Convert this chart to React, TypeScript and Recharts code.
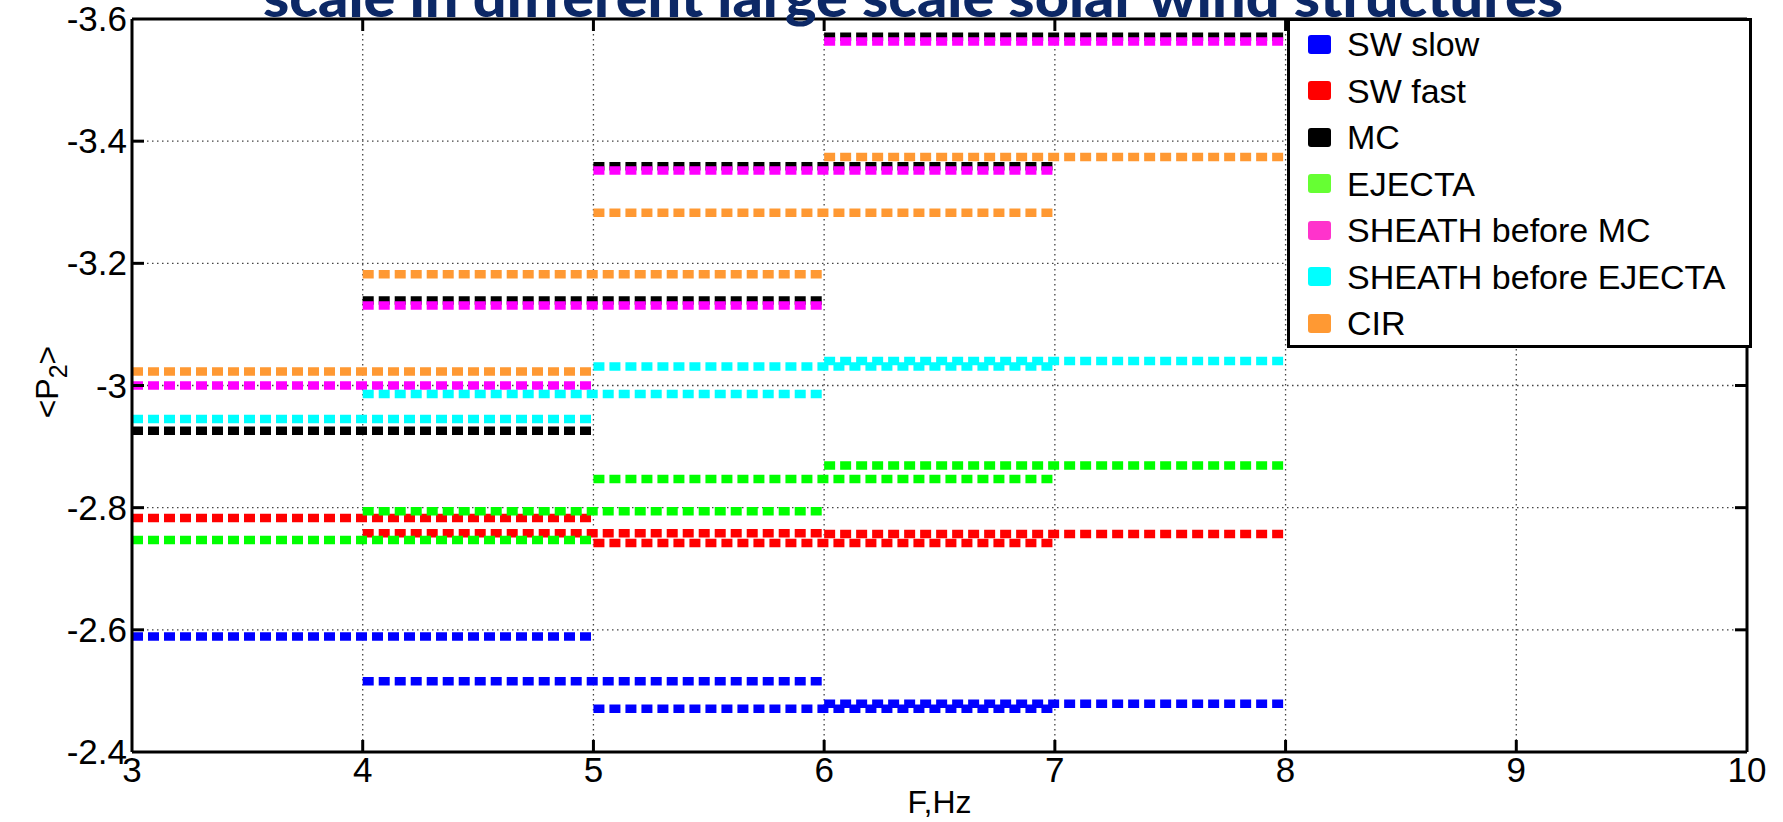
import React from 'react';
import { LineChart, Line, XAxis, YAxis, CartesianGrid, ReferenceLine, Legend } from 'recharts';

// ---- data ----
const segStart = [3, 4, 5, 6];
const segEnd = [5, 6, 7, 8];

const swSlow = [-2.589, -2.516, -2.471, -2.479];
const swFast = [-2.783, -2.758, -2.742, -2.757];
const mc = [-2.926, -3.139, -3.359, -3.571];
const ejecta = [-2.747, -2.794, -2.847, -2.869];
const sheathMc = [-3.0, -3.131, -3.352, -3.563];
const sheathEjecta = [-2.945, -2.986, -3.031, -3.04];
const cir = [-3.023, -3.182, -3.283, -3.374];

const seriesNames = ['SW slow', 'SW fast', 'MC', 'EJECTA', 'SHEATH before MC', 'SHEATH before EJECTA', 'CIR'];
const seriesValues = [swSlow, swFast, mc, ejecta, sheathMc, sheathEjecta, cir];
const lineColors = ['#0000FF', '#FF0000', '#000000', '#00FF00', '#FF00FF', '#00FFFF', '#FF9933'];
const legendColors = ['#0000FF', '#FF0000', '#000000', '#66FF33', '#FF33CC', '#00FFFF', '#FF9933'];

const xTicks = [3, 4, 5, 6, 7, 8, 9, 10];
const yTicks = [-3.6, -3.4, -3.2, -3, -2.8, -2.6, -2.4];
const yTickLabels = ['-3.6', '-3.4', '-3.2', '-3', '-2.8', '-2.6', '-2.4'];

const titleText = 'scale in different large scale solar wind structures';
const xLabel = 'F,Hz';

// ---- layout ----
const W = 1783;
const H = 822;
const PLOT_LEFT = 132;
const PLOT_TOP = 19;
const PLOT_RIGHT = 1747;
const PLOT_BOTTOM = 752;
const PLOT_W = PLOT_RIGHT - PLOT_LEFT;
const PLOT_H = PLOT_BOTTOM - PLOT_TOP;
const TICK_LEN = 12;
const FONT = "'Liberation Sans', Arial, Helvetica, sans-serif";
const TICK_FONT = 35;

const XTick = (props: any) => {
  const { x, y, payload } = props;
  const v = payload.value;
  const edge = v === xTicks[0] || v === xTicks[xTicks.length - 1];
  return (
    <g>
      {!edge && <line x1={x} y1={y} x2={x} y2={y - TICK_LEN} stroke="#000" strokeWidth={3} />}
      {!edge && <line x1={x} y1={y - PLOT_H} x2={x} y2={y - PLOT_H + TICK_LEN} stroke="#000" strokeWidth={3} />}
      <text x={x} y={y + 30} textAnchor="middle" fontSize={TICK_FONT} fontFamily={FONT} fill="#000">
        {String(v)}
      </text>
    </g>
  );
};

const YTick = (props: any) => {
  const { x, y, payload } = props;
  const v = payload.value;
  const idx = yTicks.indexOf(v);
  const edge = idx === 0 || idx === yTicks.length - 1;
  return (
    <g>
      {!edge && <line x1={x} y1={y} x2={x + TICK_LEN} y2={y} stroke="#000" strokeWidth={3} />}
      {!edge && <line x1={x + PLOT_W - TICK_LEN} y1={y} x2={x + PLOT_W} y2={y} stroke="#000" strokeWidth={3} />}
      <text x={x - 5} y={y + 12} textAnchor="end" fontSize={TICK_FONT} fontFamily={FONT} fill="#000">
        {idx >= 0 ? yTickLabels[idx] : String(v)}
      </text>
    </g>
  );
};

const XLabel = (props: any) => {
  const vb = props.viewBox || { x: PLOT_LEFT, y: PLOT_BOTTOM, width: PLOT_W, height: 70 };
  return (
    <text x={vb.x + vb.width / 2} y={vb.y + 61} textAnchor="middle" fontSize={32} fontFamily={FONT} fill="#000">
      {xLabel}
    </text>
  );
};

const YLabel = () => {
  const cx = 48;
  const cy = 382;
  return (
    <text x={cx} y={cy} transform={`rotate(-90 ${cx} ${cy})`} textAnchor="middle" fontSize={32} fontFamily={FONT} fill="#000" dy={10}>
      {'<P'}
      <tspan fontSize={25} dy={9}>2</tspan>
      <tspan dy={-9}>{'>'}</tspan>
    </text>
  );
};

const LegendBox = () => (
  <div
    style={{
      boxSizing: 'border-box',
      width: 465,
      height: 330,
      border: '3px solid #000',
      background: '#fff',
      fontFamily: FONT,
    }}
  >
    {seriesNames.map((name, i) => (
      <div key={name} style={{ display: 'flex', alignItems: 'center', height: 46.5 }}>
        <div
          style={{
            width: 23,
            height: 19,
            borderRadius: 3,
            background: legendColors[i],
            marginLeft: 18,
            flex: '0 0 auto',
          }}
        />
        <span style={{ marginLeft: 16, fontSize: 34, color: '#000', whiteSpace: 'nowrap', lineHeight: 1 }}>{name}</span>
      </div>
    ))}
  </div>
);

export default function App() {
  return (
    <div style={{ position: 'absolute', left: 0, top: 0, width: W, height: H, background: '#fff' }}>
      <LineChart
        width={W}
        height={H}
        margin={{ top: PLOT_TOP, right: W - PLOT_RIGHT, bottom: 0, left: 0 }}
      >
        <CartesianGrid stroke="#444" strokeWidth={1.3} strokeDasharray="1.5 3.5" />
        <XAxis
          type="number"
          dataKey="x"
          domain={[3, 10]}
          ticks={xTicks}
          allowDataOverflow
          height={H - PLOT_BOTTOM}
          axisLine={{ stroke: '#000', strokeWidth: 3 }}
          tickLine={false}
          tickSize={0}
          tickMargin={0}
          tick={<XTick />}
          interval={0}
          label={<XLabel />}
        />
        <YAxis
          type="number"
          domain={[-3.6, -2.4]}
          reversed
          ticks={yTicks}
          allowDataOverflow
          width={PLOT_LEFT}
          axisLine={{ stroke: '#000', strokeWidth: 3 }}
          tickLine={false}
          tickSize={0}
          tickMargin={0}
          tick={<YTick />}
          interval={0}
          label={<YLabel />}
        />
        <ReferenceLine y={-3.6} stroke="#000" strokeWidth={3} />
        <ReferenceLine x={10} stroke="#000" strokeWidth={3} />
        {seriesValues.map((vals, si) =>
          vals.map((v, k) => (
            <Line
              key={`${si}-${k}`}
              data={[
                { x: segStart[k], y: v },
                { x: segEnd[k], y: v },
              ]}
              dataKey="y"
              stroke={lineColors[si]}
              strokeWidth={8.5}
              strokeDasharray="11 5"
              dot={false}
              activeDot={false}
              legendType="none"
              isAnimationActive={false}
            />
          ))
        )}
        <Legend
          layout="vertical"
          align="center"
          verticalAlign="middle"
          content={<LegendBox />}
          wrapperStyle={{ position: 'absolute', left: 1287, top: 18, width: 465, height: 330 }}
        />
      </LineChart>
      <svg
        width={W}
        height={H}
        style={{ position: 'absolute', left: 0, top: 0, pointerEvents: 'none' }}
      >
        <text
          x={913}
          y={17}
          textAnchor="middle"
          fontFamily="Lato, 'Open Sans', sans-serif"
          fontWeight={900}
          fontSize={56}
          fill="#0C2866"
          textLength={1300}
          lengthAdjust="spacingAndGlyphs"
        >
          {titleText}
        </text>
      </svg>
    </div>
  );
}
